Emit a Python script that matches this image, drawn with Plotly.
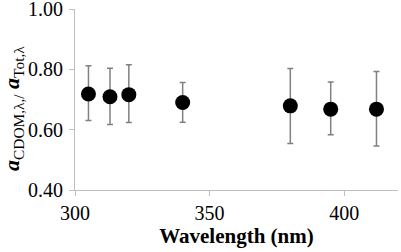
import plotly.graph_objects as go

wavelength = [305, 313, 320, 340, 380, 395, 412]
ratio = [0.718, 0.709, 0.716, 0.690, 0.679, 0.668, 0.668]
err_upper = [0.812, 0.804, 0.815, 0.756, 0.803, 0.758, 0.793]
err_lower = [0.630, 0.617, 0.624, 0.625, 0.554, 0.583, 0.546]

plus = [u - v for u, v in zip(err_upper, ratio)]
minus = [v - l for v, l in zip(ratio, err_lower)]

SERIF = "Liberation Serif"

fig = go.Figure()
fig.add_trace(go.Scatter(
    x=wavelength, y=ratio, mode="markers",
    marker=dict(color="black", size=15),
    error_y=dict(type="data", symmetric=False, array=plus, arrayminus=minus,
                 color="#808080", thickness=1.5, width=3),
    showlegend=False,
))

axis_font = dict(family=SERIF, size=20, color="black")
fig.update_layout(
    width=401, height=252,
    font=dict(family=SERIF, color="black"),
    margin=dict(l=75, r=3, t=9, b=62),
    paper_bgcolor="white", plot_bgcolor="white",
    xaxis=dict(range=[300, 420], tickvals=[300, 350, 400], ticktext=["300", "350", "400"],
               automargin=False, ticklabeloverflow="allow",
               showgrid=False, zeroline=False, showline=True, linecolor="#bfbfbf", linewidth=1,
               ticks="outside", ticklen=5, tickcolor="#bfbfbf", tickfont=axis_font,
               title=dict(text="<b>Wavelength (nm)</b>",
                          font=dict(family=SERIF, size=21, color="black"),
                          standoff=4)),
    yaxis=dict(range=[0.4, 1.0], tickvals=[0.4, 0.6, 0.8, 1.0],
               ticktext=["0.40", "0.60", "0.80", "1.00"],
               automargin=False, ticklabeloverflow="allow", ticklabelstandoff=2,
               showgrid=False, zeroline=False, showline=True, linecolor="#bfbfbf", linewidth=1,
               ticks="outside", ticklen=5, tickcolor="#bfbfbf", tickfont=axis_font),
)
fig.add_annotation(
    text="<b><i>a</i></b><sub>CDOM,λ,/</sub> <b><i>a</i></b><sub>Tot,λ</sub>",
    xref="paper", yref="paper", x=(13 - 75) / 323, y=(190 - 109) / 181,
    xanchor="center", yanchor="middle", textangle=-90, showarrow=False,
    font=dict(family=SERIF, size=22, color="black"),
)

fig.write_html("out.html", config={"displayModeBar": False},
               post_script="document.body.style.margin='0';document.body.style.overflow='hidden';")
